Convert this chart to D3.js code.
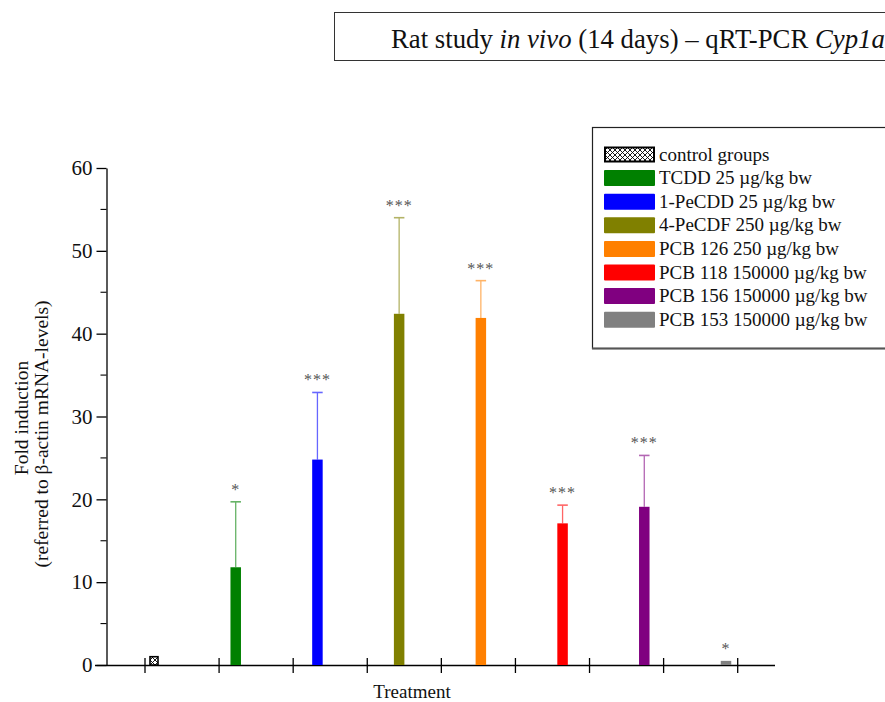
<!DOCTYPE html>
<html>
<head>
<meta charset="utf-8">
<script src="https://cdn.jsdelivr.net/npm/d3@7/dist/d3.min.js"></script>
<style>
  html, body { margin: 0; padding: 0; background: #fff; }
  svg { display: block; }
  svg text { font-family: "Liberation Serif", "Times New Roman", "DejaVu Serif", serif; }
</style>
</head>
<body>
<svg id="chart" width="885" height="702"></svg>
<script>
// Treatment groups, in plotting order
const groups = ["control", "TCDD", "1-PeCDD", "4-PeCDF", "PCB 126", "PCB 118", "PCB 156", "PCB 153"];
const legendLabels = [
  "control groups",
  "TCDD 25 \u00b5g/kg bw",
  "1-PeCDD 25 \u00b5g/kg bw",
  "4-PeCDF 250 \u00b5g/kg bw",
  "PCB 126 250 \u00b5g/kg bw",
  "PCB 118 150000 \u00b5g/kg bw",
  "PCB 156 150000 \u00b5g/kg bw",
  "PCB 153 150000 \u00b5g/kg bw"
];
const colors = ["hatch", "#008000", "#0000ff", "#808000", "#ff8000", "#ff0000", "#800080", "#808080"];
// Mean fold induction and upper error (mean + SD)
const means = [1.0, 11.8, 24.8, 42.4, 41.9, 17.1, 19.1, 0.5];
const upper = [null, 19.7, 32.9, 54.0, 46.4, 19.3, 25.3, null];
const signif = ["", "*", "***", "***", "***", "***", "***", "*"];
const yTicks = [0, 10, 20, 30, 40, 50, 60];
const yMinor = [5, 15, 25, 35, 45, 55];
const xTickIdx = [0, 1, 2, 3, 4, 5, 6, 7, 8];

const SERIF = "Liberation Serif, Times New Roman, DejaVu Serif, serif";
const svg = d3.select("#chart");

// hatch pattern for the control group
const defs = svg.append("defs");
const pat = defs.append("pattern")
  .attr("id", "xhatch").attr("patternUnits", "userSpaceOnUse")
  .attr("width", 5).attr("height", 5);
pat.append("rect").attr("width", 5).attr("height", 5).attr("fill", "#fff");
pat.append("path").attr("d", "M0,0L5,5M5,0L0,5").attr("stroke", "#000").attr("stroke-width", 0.9);

const fillOf = c => c === "hatch" ? "url(#xhatch)" : c;

// scales
const y = d3.scaleLinear().domain([0, 60]).range([665, 168]);
const xBar = d3.scalePoint().domain(groups).range([154, 726]);
const xTick = d3.scaleLinear().domain([0, 8]).range([145, 737.7]);
const barW = 10.5;

// title box (runs off the right edge of the page)
svg.append("rect").attr("x", 334.5).attr("y", 12.5).attr("width", 560).attr("height", 48)
  .attr("fill", "#fff").attr("stroke", "#333").attr("stroke-width", 1);
const title = svg.append("text").attr("x", 391).attr("y", 48).attr("font-size", 20)
  .attr("font-family", SERIF).attr("fill", "#111");
title.append("tspan").text("Rat study ");
title.append("tspan").attr("font-style", "italic").text("in vivo");
title.append("tspan").text(" (14 days) \u2013 qRT-PCR ");
title.append("tspan").attr("font-style", "italic").text("Cyp1a1");
// size the title so that "...Cyp1a" reaches the page edge
{
  const n = title.node();
  const nChars = n.getNumberOfChars();
  const w = n.getEndPositionOfChar(nChars - 2).x - 391;
  title.attr("font-size", Math.min(30, 20 * 494 / w));
}

// y axis
const yAxis = svg.append("g").attr("transform", "translate(106.5,0)")
  .call(d3.axisLeft(y).tickValues(yTicks).tickSize(10).tickSizeOuter(0).tickPadding(4));
yAxis.attr("font-family", SERIF);
yAxis.selectAll("text").attr("font-size", 21).attr("fill", "#111").attr("font-family", SERIF);
yAxis.selectAll("line, path").attr("stroke", "#000").attr("stroke-width", 1.3);
yAxis.selectAll(".minor").data(yMinor).enter().append("line")
  .attr("x1", -6).attr("x2", 0).attr("y1", d => y(d)).attr("y2", d => y(d))
  .attr("stroke", "#000").attr("stroke-width", 1.1);

// x axis baseline with crossing ticks
svg.append("line").attr("x1", 95).attr("x2", 775).attr("y1", 665.5).attr("y2", 665.5)
  .attr("stroke", "#000").attr("stroke-width", 1.5);
svg.append("g").selectAll("line").data(xTickIdx).enter().append("line")
  .attr("x1", d => xTick(d)).attr("x2", d => xTick(d))
  .attr("y1", 658).attr("y2", 673).attr("stroke", "#000").attr("stroke-width", 1.3);

// bars
const bars = svg.append("g");
groups.forEach((g, i) => {
  const cx = xBar(g);
  const top = y(means[i]);
  if (upper[i] !== null) {
    const ec = d3.color(colors[i]);
    const light = d3.interpolateRgb(ec, "#fff")(0.4);
    bars.append("line").attr("x1", cx).attr("x2", cx).attr("y1", top).attr("y2", y(upper[i]))
      .attr("stroke", light).attr("stroke-width", 1.3);
    bars.append("line").attr("x1", cx - barW / 2).attr("x2", cx + barW / 2)
      .attr("y1", y(upper[i])).attr("y2", y(upper[i]))
      .attr("stroke", light).attr("stroke-width", 1.6);
  }
  if (colors[i] === "hatch") {
    bars.append("rect").attr("x", cx - 4).attr("y", top).attr("width", 8).attr("height", 665 - top)
      .attr("fill", fillOf(colors[i])).attr("stroke", "#000").attr("stroke-width", 1.6);
  } else {
    bars.append("rect").attr("x", cx - barW / 2).attr("y", top).attr("width", barW).attr("height", 665 - top)
      .attr("fill", colors[i]);
  }
  if (signif[i]) {
    const ref = upper[i] !== null ? y(upper[i]) : top;
    bars.append("text").attr("x", cx).attr("y", ref - 7).attr("text-anchor", "middle")
      .attr("font-size", 16).attr("fill", "#555").attr("font-family", "DejaVu Sans, sans-serif")
      .attr("letter-spacing", 1).text(signif[i]);
  }
});

// axis titles
svg.append("text").attr("x", 412).attr("y", 698).attr("text-anchor", "middle")
  .attr("font-family", SERIF).attr("font-size", 19).attr("fill", "#111").text("Treatment");
svg.append("text").attr("transform", "translate(28,418) rotate(-90)")
  .attr("text-anchor", "middle").attr("font-family", SERIF).attr("font-size", 19.5)
  .attr("fill", "#111").text("Fold induction");
svg.append("text").attr("transform", "translate(48,434) rotate(-90)")
  .attr("text-anchor", "middle").attr("font-family", SERIF).attr("font-size", 19.5)
  .attr("fill", "#111").text("(referred to \u03b2-actin mRNA-levels)");

// legend
svg.append("rect").attr("x", 592.5).attr("y", 127.5).attr("width", 310).attr("height", 221)
  .attr("fill", "#fff").attr("stroke", "#222").attr("stroke-width", 1.2);
svg.append("line").attr("x1", 592).attr("x2", 885).attr("y1", 348.5).attr("y2", 348.5)
  .attr("stroke", "#555").attr("stroke-width", 2);
const leg = svg.append("g");
legendLabels.forEach((lab, i) => {
  const cy = 154.5 + i * 23.6;
  if (colors[i] === "hatch") {
    leg.append("rect").attr("x", 605).attr("y", cy - 7).attr("width", 49).attr("height", 14)
      .attr("fill", fillOf(colors[i])).attr("stroke", "#000").attr("stroke-width", 2);
  } else {
    leg.append("rect").attr("x", 604).attr("y", cy - 8).attr("width", 51).attr("height", 16)
      .attr("rx", 1).attr("fill", colors[i]);
  }
  leg.append("text").attr("x", 659).attr("y", cy + 6).attr("font-family", SERIF)
    .attr("font-size", 19).attr("fill", "#111").text(lab);
});
</script>
</body>
</html>
